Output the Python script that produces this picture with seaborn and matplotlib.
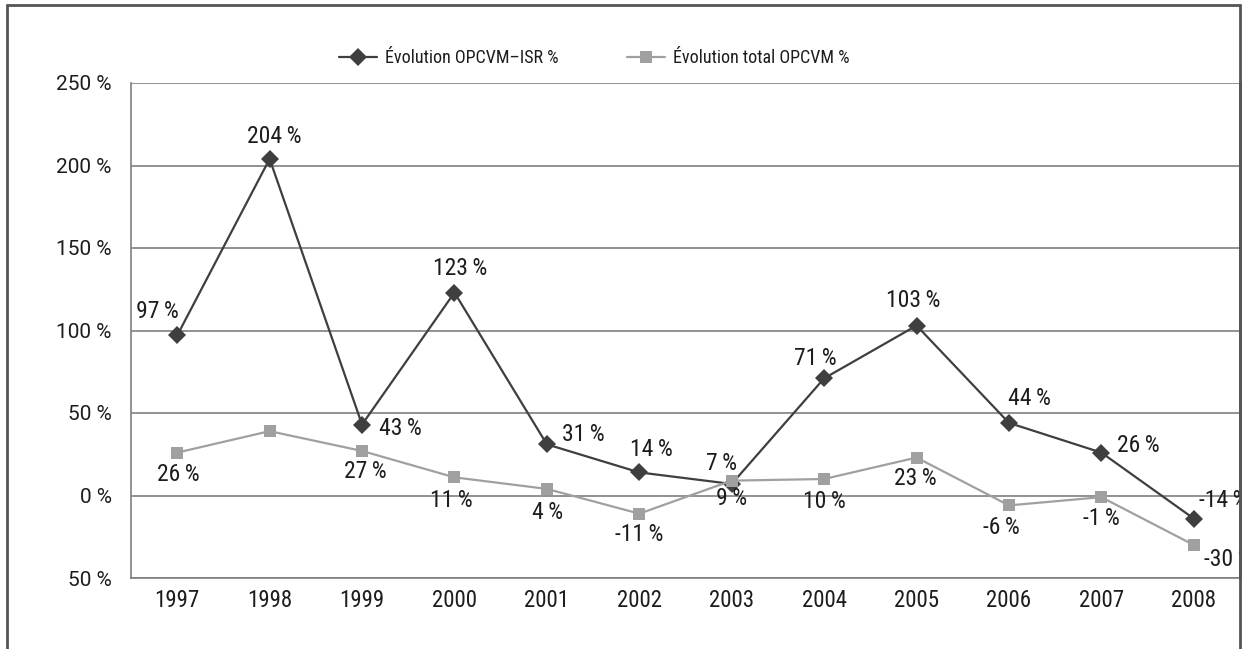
import numpy as np
import pandas as pd
import matplotlib
matplotlib.use("Agg")
import matplotlib.pyplot as plt
import seaborn as sns
from matplotlib.lines import Line2D

# --- data -------------------------------------------------------------
years = ["1997", "1998", "1999", "2000", "2001", "2002",
         "2003", "2004", "2005", "2006", "2007", "2008"]
isr_values = [97, 204, 43, 123, 31, 14, 7, 71, 103, 44, 26, -14]
total_values = [26, 39, 27, 11, 4, -11, 9, 10, 23, -6, -1, -30]
total_labelled = [True, False, True, True, True, True,
                  True, True, True, True, True, True]
y_ticks = [250, 200, 150, 100, 50, 0, -50]
y_tick_labels = ["250 %", "200 %", "150 %", "100 %", "50 %", "0 %", "50 %"]
series_names = ["Évolution OPCVM–ISR %", "Évolution total OPCVM %"]

# label offsets (pixels) relative to each point
isr_offsets = [(-20, 24), (5, 22), (38, -4), (6, 24), (36, 10), (12, 23),
               (-10, 20), (-9, 20), (-3, 25), (20, 24), (37, 7), (29, 18)]
total_offsets = [(1, -22), (0, 0), (3, -21), (-3, -23), (1, -24), (0, -21),
                 (0, -18), (0, -22), (-1, -21), (-8, -22), (0, -21), (34, -15)]

DARK = "#3f3f3f"
LIGHT = "#9fa0a1"
GRID = "#7f7f7f"
TEXT = "#1e1c1d"

sns.set_style("white")
plt.rcParams["font.family"] = ["Roboto Condensed", "DejaVu Sans"]
REGULAR = ["Roboto", "DejaVu Sans"]

df = pd.DataFrame({
    "pos": list(range(len(years))) * 2,
    "value": isr_values + total_values,
    "serie": [series_names[0]] * len(years) + [series_names[1]] * len(years),
})

W, H = 1252, 649
fig = plt.figure(figsize=(W / 100, H / 100), dpi=100)
left, right, top, bottom = 131, 1240, 83, 578
ax = fig.add_axes([left / W, 1 - bottom / H, (right - left) / W, (bottom - top) / H])

sns.lineplot(data=df, x="pos", y="value", hue="serie", style="serie",
             palette={series_names[0]: DARK, series_names[1]: LIGHT},
             markers={series_names[0]: "D", series_names[1]: "s"},
             dashes=False, linewidth=1.6, markersize=9,
             markeredgewidth=0, legend=False, ax=ax, zorder=3)

# axes limits: category slots of equal width, right edge cut by the frame
slot = 93.1
ax.set_xlim(-0.5, -0.5 + (right - left) / slot)
ax.set_ylim(-50, 250)

# grid and spines
for y in y_ticks:
    ax.axhline(y, color=GRID, lw=1.2, zorder=1)
ax.spines["top"].set_visible(False)
for s in ["left", "bottom"]:
    ax.spines[s].set_color(GRID)
    ax.spines[s].set_linewidth(1.2)
ax.spines["right"].set_color("#555555")
ax.spines["right"].set_linewidth(2)

ax.set_yticks(y_ticks)
ax.set_yticklabels(y_tick_labels, family=REGULAR, fontsize=15)
ax.set_xticks(range(len(years)))
ax.set_xticklabels(years, fontsize=16.5)
ax.set_xticks(np.arange(-0.5, len(years) - 0.4, 1), minor=True)
ax.tick_params(axis="x", which="major", length=0, pad=8, labelcolor=TEXT)
ax.tick_params(axis="x", which="minor", length=7, width=1.2, color=GRID, direction="out")
ax.tick_params(axis="y", length=9, width=1.2, color=GRID, direction="out", pad=5,
               labelcolor=TEXT)
ax.set_xlabel("")
ax.set_ylabel("")

# data labels
LFS = 17
for i, v in enumerate(isr_values):
    dx, dy = isr_offsets[i]
    ax.annotate(f"{v}\u2009%", (i, v), xytext=(dx, dy), textcoords="offset pixels",
                ha="center", va="center", fontsize=LFS, color=TEXT,
                annotation_clip=False, clip_on=True, zorder=4)
for i, v in enumerate(total_values):
    if not total_labelled[i]:
        continue
    dx, dy = total_offsets[i]
    ax.annotate(f"{v}\u2009%", (i, v), xytext=(dx, dy), textcoords="offset pixels",
                ha="center", va="center", fontsize=LFS, color=TEXT,
                annotation_clip=False, clip_on=True, zorder=4)

# legend above the plot
handles = [
    Line2D([], [], color=DARK, marker="D", markersize=9, markeredgewidth=0, lw=1.6),
    Line2D([], [], color=LIGHT, marker="s", markersize=8, markeredgewidth=0, lw=1.6),
]
fig.legend(handles, series_names, loc="center", bbox_to_anchor=(594 / W, 1 - 58 / H),
           ncol=2, frameon=False, fontsize=13, handlelength=2.1,
           handletextpad=0.45, columnspacing=3.8, labelcolor=TEXT)

# outer frame (left, top, right)
frame_kw = dict(color="#555555", lw=2, transform=fig.transFigure)
fig.add_artist(Line2D([7 / W, 7 / W], [0, 1 - 5 / H], **frame_kw))
fig.add_artist(Line2D([7 / W, right / W], [1 - 5 / H, 1 - 5 / H], **frame_kw))
fig.add_artist(Line2D([right / W, right / W], [0, 1 - 5 / H], **frame_kw))

fig.savefig("out.png", dpi=100, facecolor="white")
